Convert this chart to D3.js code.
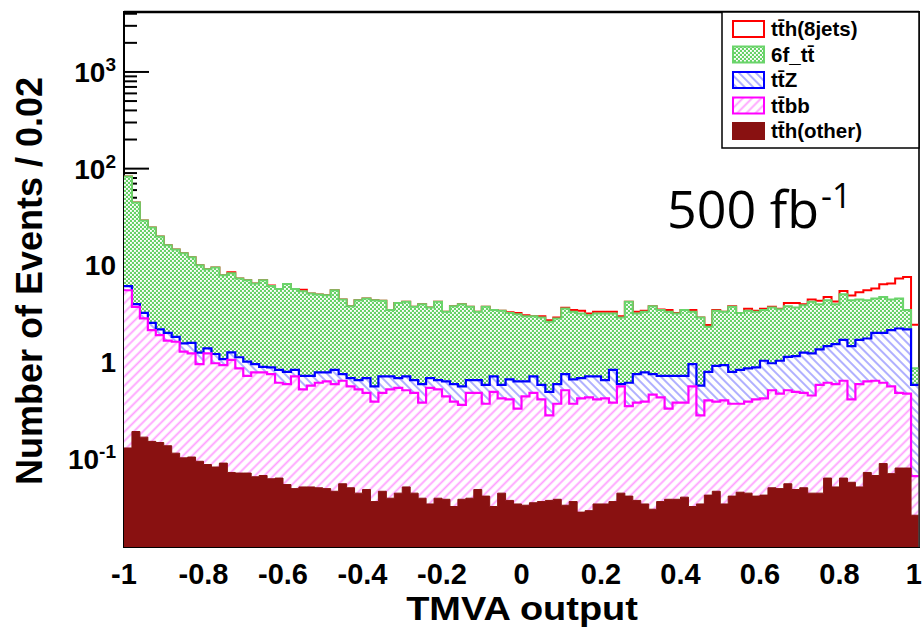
<!DOCTYPE html>
<html>
<head>
<meta charset="utf-8">
<script src="https://cdn.jsdelivr.net/npm/d3@7"></script>
<style>
  body { margin: 0; background: #fff; }
  svg { display: block; }
</style>
</head>
<body>
<div id="chart"></div>
<script>
// TMVA output, 100 bins of 0.02 from -1 to 1; THStack cumulative tops per layer
var tthOther = [
  0.129, 0.191, 0.167, 0.151, 0.147, 0.136, 0.114, 0.102, 0.104, 0.094, 0.087, 0.082, 0.090, 0.072, 0.071, 0.071, 0.065, 0.067, 0.062, 0.063, 0.054, 0.049, 0.051, 0.051, 0.050,
  0.049, 0.046, 0.055, 0.050, 0.044, 0.048, 0.036, 0.046, 0.039, 0.044, 0.051, 0.044, 0.039, 0.034, 0.039, 0.038, 0.032, 0.038, 0.039, 0.048, 0.041, 0.032, 0.044, 0.037, 0.034,
  0.033, 0.035, 0.036, 0.037, 0.038, 0.033, 0.036, 0.028, 0.029, 0.034, 0.034, 0.036, 0.044, 0.041, 0.037, 0.034, 0.030, 0.036, 0.038, 0.038, 0.040, 0.032, 0.034, 0.042, 0.046,
  0.034, 0.041, 0.045, 0.044, 0.041, 0.042, 0.050, 0.049, 0.055, 0.048, 0.050, 0.044, 0.044, 0.063, 0.051, 0.063, 0.057, 0.051, 0.072, 0.067, 0.089, 0.070, 0.080, 0.080, 0.026
]
var ttbbStack = [
  5.52, 3.72, 2.82, 2.14, 1.90, 1.66, 1.62, 1.28, 1.23, 0.95, 1.23, 0.97, 0.93, 1.05, 0.86, 0.72, 0.78, 0.78, 0.75, 0.61, 0.59, 0.71, 0.52, 0.57, 0.61,
  0.63, 0.59, 0.64, 0.56, 0.52, 0.48, 0.39, 0.48, 0.52, 0.54, 0.51, 0.48, 0.38, 0.54, 0.52, 0.44, 0.39, 0.36, 0.48, 0.48, 0.37, 0.49, 0.42, 0.41, 0.33,
  0.44, 0.48, 0.41, 0.28, 0.37, 0.51, 0.37, 0.42, 0.43, 0.41, 0.42, 0.38, 0.56, 0.35, 0.38, 0.39, 0.46, 0.43, 0.33, 0.38, 0.38, 0.56, 0.28, 0.40, 0.39,
  0.40, 0.37, 0.37, 0.39, 0.41, 0.42, 0.51, 0.47, 0.51, 0.49, 0.48, 0.45, 0.58, 0.61, 0.59, 0.64, 0.41, 0.59, 0.63, 0.64, 0.61, 0.56, 0.48, 0.47, 0.066
]
var ttZStack = [
  6.08, 3.96, 3.22, 2.54, 2.17, 2.00, 1.82, 1.56, 1.58, 1.25, 1.38, 1.21, 1.07, 1.26, 1.12, 1.01, 0.95, 0.89, 0.88, 0.83, 0.79, 0.83, 0.72, 0.72, 0.78,
  0.78, 0.83, 0.75, 0.68, 0.65, 0.68, 0.56, 0.71, 0.71, 0.68, 0.71, 0.65, 0.59, 0.68, 0.65, 0.63, 0.59, 0.56, 0.65, 0.65, 0.58, 0.71, 0.58, 0.66, 0.63,
  0.63, 0.71, 0.58, 0.49, 0.59, 0.75, 0.66, 0.68, 0.71, 0.71, 0.65, 0.83, 0.59, 0.61, 0.75, 0.78, 0.75, 0.72, 0.72, 0.72, 0.72, 0.95, 0.57, 0.79, 0.91,
  0.93, 0.79, 0.83, 0.86, 0.88, 1.03, 0.97, 1.03, 1.13, 1.15, 1.25, 1.23, 1.35, 1.46, 1.53, 1.69, 1.46, 1.69, 1.75, 2.00, 2.00, 2.14, 2.22, 2.17, 0.58
]
var sixfStack = [
  82.7, 44.6, 29.1, 24.6, 19.9, 16.1, 14.6, 13.3, 12.1, 10.0, 9.1, 9.5, 7.9, 8.3, 7.3, 7.0, 6.5, 7.0, 6.1, 5.7, 6.4, 5.7, 5.4, 5.1, 5.0,
  4.90, 5.52, 4.43, 3.78, 4.36, 4.54, 4.36, 4.29, 3.44, 4.08, 4.19, 3.72, 3.96, 3.66, 4.19, 3.30, 3.78, 3.96, 3.72, 3.30, 3.72, 3.44, 3.39, 3.22, 3.12,
  2.98, 2.98, 2.89, 2.60, 2.82, 3.57, 3.30, 3.18, 3.05, 3.18, 3.18, 3.18, 2.89, 4.19, 3.18, 3.30, 3.78, 3.44, 3.30, 3.18, 3.44, 3.30, 2.89, 2.31, 3.39,
  3.30, 3.72, 3.22, 3.38, 3.30, 3.44, 3.66, 3.52, 3.78, 3.66, 3.87, 4.19, 3.96, 4.36, 3.96, 5.02, 4.36, 4.43, 4.36, 4.54, 4.71, 4.43, 4.54, 3.44, 0.86
]
var tth8jetsStack = [
  82.7, 44.6, 29.1, 24.6, 19.9, 16.1, 14.6, 13.3, 12.1, 10.0, 9.1, 9.5, 7.9, 8.5, 7.3, 7.0, 6.5, 7.0, 6.2, 5.7, 6.4, 5.7, 5.6, 5.1, 5.0,
  4.90, 5.52, 4.43, 3.78, 4.36, 4.54, 4.36, 4.29, 3.44, 4.08, 4.19, 3.72, 3.96, 3.66, 4.19, 3.30, 3.78, 3.96, 3.72, 3.30, 3.72, 3.44, 3.39, 3.26, 3.22,
  3.05, 2.98, 2.98, 2.71, 2.89, 3.63, 3.44, 3.39, 3.18, 3.30, 3.30, 3.30, 2.98, 4.19, 3.30, 3.39, 3.78, 3.49, 3.44, 3.22, 3.44, 3.44, 2.89, 2.41, 3.44,
  3.30, 3.78, 3.22, 3.55, 3.38, 3.55, 3.72, 3.55, 4.08, 4.08, 3.96, 4.43, 4.29, 4.71, 4.22, 5.43, 4.87, 5.27, 5.52, 5.74, 6.37, 6.47, 7.29, 7.58, 2.43
]

var legendNames = ['tt\u0304h(8jets)', '6f_tt\u0304', 'tt\u0304Z', 'tt\u0304bb', 'tt\u0304h(other)']
var xTickValues = [-1, -0.8, -0.6, -0.4, -0.2, 0, 0.2, 0.4, 0.6, 0.8, 1]
var xTickLabels = ['-1', '-0.8', '-0.6', '-0.4', '-0.2', '0', '0.2', '0.4', '0.6', '0.8', '1']
var yTickValues = [0.1, 1, 10, 100, 1000]
var yTickBase = ['10', '1', '10', '10', '10']
var yTickExp = ['-1', '', '', '2', '3']

var W = 922, H = 627
var m = {left: 124, top: 12, right: 919, bottom: 547}
var font = '"Liberation Sans", Arial, sans-serif'

var x = d3.scaleLinear().domain([-1, 1]).range([m.left, m.right])
var y = d3.scaleLog().domain([0.0122, 4170]).range([m.bottom, m.top])

var svg = d3.select('#chart').append('svg')
    .attr('width', W).attr('height', H)

var defs = svg.append('defs')
defs.append('clipPath').attr('id', 'plotclip')
  .append('rect')
    .attr('x', m.left).attr('y', m.top)
    .attr('width', m.right - m.left).attr('height', m.bottom - m.top)

// checker pattern for 6f_tt
var pg = defs.append('pattern').attr('id', 'pGreen')
    .attr('patternUnits', 'userSpaceOnUse').attr('width', 4).attr('height', 4)
pg.append('rect').attr('width', 4).attr('height', 4).attr('fill', '#66d166')
pg.append('rect').attr('x', 0).attr('y', 0).attr('width', 1.9).attr('height', 1.9).attr('fill', '#fff')
pg.append('rect').attr('x', 2).attr('y', 2).attr('width', 1.9).attr('height', 1.9).attr('fill', '#fff')

function hatch(id, color, angle, width, gap){
  var p = defs.append('pattern').attr('id', id)
      .attr('patternUnits', 'userSpaceOnUse').attr('width', gap).attr('height', gap)
      .attr('patternTransform', 'rotate(' + angle + ')')
  p.append('rect').attr('width', gap).attr('height', gap).attr('fill', '#fff')
  p.append('line').attr('x1', gap / 2).attr('x2', gap / 2).attr('y1', 0).attr('y2', gap)
    .attr('stroke', color).attr('stroke-width', width)
}
hatch('pBlue', '#9d9dff', -45, 1.6, 6)
hatch('pPink', '#ffa0ff', 45, 1.8, 6.5)

// frame underneath
svg.append('rect')
  .attr('x', m.left).attr('y', m.top)
  .attr('width', m.right - m.left).attr('height', m.bottom - m.top)
  .attr('fill', 'none').attr('stroke', '#000').attr('stroke-width', 2)

// y ticks (drawn before the histograms, so covered where bins reach)
var minor = []
for (var d = -2; d <= 3; d++){
  for (var k = 2; k <= 9; k++){
    var v = k * Math.pow(10, d)
    if (v > y.domain()[0] && v < y.domain()[1]) minor.push(v)
  }
}
svg.selectAll('.minor').data(minor).enter().append('line')
  .attr('x1', m.left).attr('x2', m.left + 13)
  .attr('y1', function(d){ return y(d) }).attr('y2', function(d){ return y(d) })
  .attr('stroke', '#000').attr('stroke-width', 2)
svg.selectAll('.major').data(yTickValues).enter().append('line')
  .attr('x1', m.left).attr('x2', m.left + 25)
  .attr('y1', function(d){ return y(d) }).attr('y2', function(d){ return y(d) })
  .attr('stroke', '#000').attr('stroke-width', 2)

// histograms
var edges = d3.range(100).map(function(i){ return i / 50 - 1 })
function steps(vals){
  var pts = vals.map(function(v, i){ return [edges[i], v] })
  pts.push([1, vals[vals.length - 1]])
  return pts
}
var area = d3.area().curve(d3.curveStepAfter)
  .x(function(d){ return x(d[0]) }).y0(m.bottom).y1(function(d){ return y(d[1]) })
var line = d3.line().curve(d3.curveStepAfter)
  .x(function(d){ return x(d[0]) }).y(function(d){ return y(d[1]) })

var layers = [
  {vals: tth8jetsStack, fill: 'none', stroke: '#ff0000', sw: 2},
  {vals: sixfStack, fill: 'url(#pGreen)', stroke: '#6ad46a', sw: 2},
  {vals: ttZStack, fill: 'url(#pBlue)', stroke: '#0000ff', sw: 2.2},
  {vals: ttbbStack, fill: 'url(#pPink)', stroke: '#ff00ff', sw: 2.2},
  {vals: tthOther, fill: '#891111', stroke: '#891111', sw: 1}
]
var hg = svg.append('g').attr('clip-path', 'url(#plotclip)')
layers.forEach(function(l){
  if (l.fill != 'none') hg.append('path').attr('d', area(steps(l.vals))).attr('fill', l.fill)
  hg.append('path').attr('d', line(steps(l.vals)))
    .attr('fill', 'none').attr('stroke', l.stroke).attr('stroke-width', l.sw)
})

// axis lines on top
svg.append('line').attr('x1', m.left).attr('x2', m.right).attr('y1', m.top).attr('y2', m.top)
  .attr('stroke', '#000').attr('stroke-width', 2.5)
svg.append('line').attr('x1', m.right).attr('x2', m.right).attr('y1', m.top).attr('y2', m.bottom)
  .attr('stroke', '#444').attr('stroke-width', 1.5)

// y tick labels
var yl = svg.selectAll('.ylab').data(yTickValues).enter().append('text')
  .attr('x', 116).attr('y', function(d){ return y(d) + 10 })
  .attr('text-anchor', 'end')
  .style('font-family', font).style('font-weight', 'bold').style('font-size', '28px')
yl.append('tspan').text(function(d, i){ return yTickBase[i] })
yl.append('tspan').attr('dy', -11).style('font-size', '19px')
  .text(function(d, i){ return yTickExp[i] })

// x tick labels
svg.selectAll('.xlab').data(xTickValues).enter().append('text')
  .attr('x', function(d, i){ return i == xTickValues.length - 1 ? W : x(d) })
  .attr('y', 584)
  .attr('text-anchor', function(d, i){ return i == xTickValues.length - 1 ? 'end' : 'middle' })
  .style('font-family', font).style('font-weight', 'bold').style('font-size', '29px')
  .text(function(d, i){ return xTickLabels[i] })

// axis titles
svg.append('text').attr('transform', 'translate(522,620) scale(1.15,1)')
  .attr('text-anchor', 'middle')
  .style('font-family', font).style('font-weight', 'bold').style('font-size', '33px')
  .text('TMVA output')
svg.append('text').attr('transform', 'translate(42,281) rotate(-90)')
  .attr('text-anchor', 'middle')
  .style('font-family', font).style('font-weight', 'bold').style('font-size', '36px')
  .text('Number of Events / 0.02')

// legend
var lg = svg.append('g')
lg.append('rect').attr('x', 722).attr('y', 12).attr('width', 197).attr('height', 136)
  .attr('fill', '#fff').attr('stroke', '#000').attr('stroke-width', 1.5)
var swFill = ['#fff', 'url(#pGreen)', 'url(#pBlue)', 'url(#pPink)', '#891111']
var swStroke = ['#ff0000', '#6ad46a', '#0000ff', '#ff00ff', '#891111']
legendNames.forEach(function(name, i){
  var cy = 29 + i * 25.5
  lg.append('rect').attr('x', 733).attr('y', cy - 8).attr('width', 31).attr('height', 16)
    .attr('fill', swFill[i]).attr('stroke', swStroke[i]).attr('stroke-width', 2)
  lg.append('text').attr('x', 771).attr('y', cy + 7)
    .style('font-family', font).style('font-weight', 'bold').style('font-size', '20.5px')
    .text(name)
})

// luminosity
var lum = svg.append('text').attr('x', 667).attr('y', 228)
  .style('font-family', '"Open Sans", sans-serif').style('font-size', '52px').style('fill', '#000')
lum.append('tspan').text('500 fb')
lum.append('tspan').attr('dx', 2).attr('dy', -20).style('font-size', '34px').text('-1')
</script>
</body>
</html>
